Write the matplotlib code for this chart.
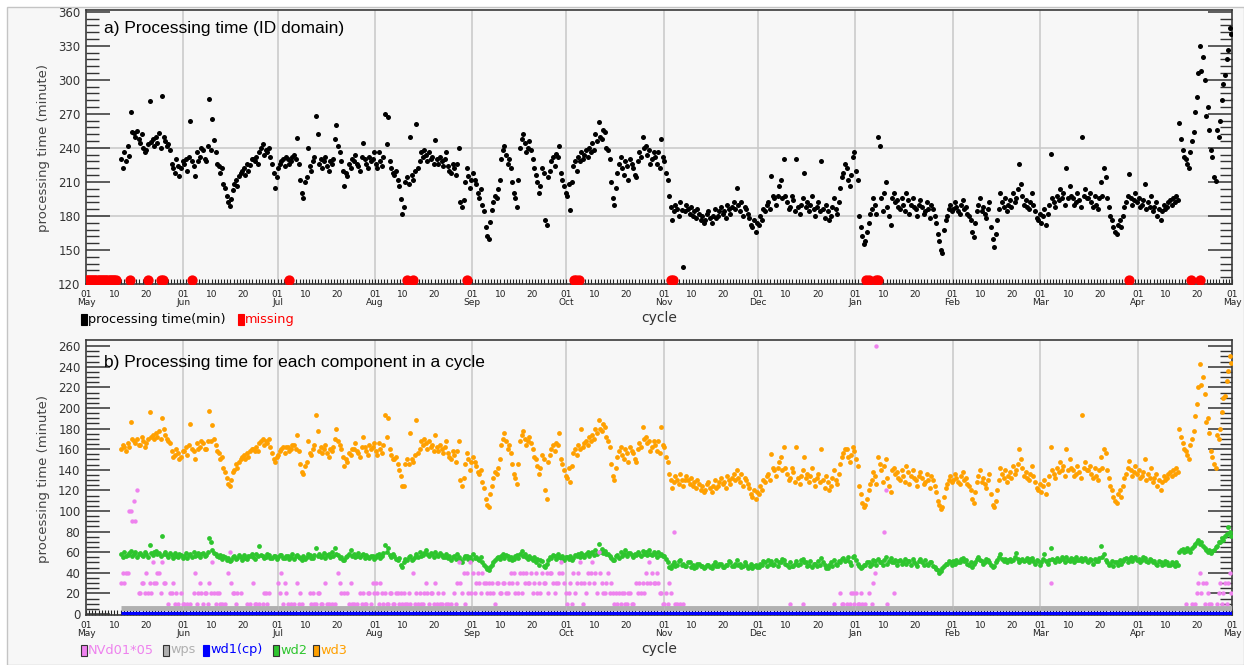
import numpy as np
import matplotlib
matplotlib.use("Agg")
import matplotlib.pyplot as plt
from matplotlib.patches import Rectangle

# ---- axis calendar (May .. next May, 365 days) ----
month_names = ["May", "Jun", "Jul", "Aug", "Sep", "Oct", "Nov", "Dec", "Jan", "Feb", "Mar", "Apr"]
month_days = [31, 30, 31, 31, 30, 31, 30, 31, 31, 28, 31, 30]
first_day = 11  # cycles start on 12 May

# ---- a) total processing time (min), two cycles per day, one list per month ----
total_time = [
    # May (12-31)
    [230, 222, 236, 228, 242, 233, 272, 254, 253, 250, 255, 248, 244, 252, 240, 236, 238, 243, 281, 245,
     248, 242, 250, 244, 253, 240, 286, 250, 246, 242, 243, 238, 226, 222, 218, 230, 224, 215, 222, 228],
    # Jun
    [226, 230, 220, 232, 264, 228, 224, 215, 236, 228, 232, 240, 238, 230, 228, 242, 283, 238, 265, 247,
     236, 226, 224, 218, 222, 208, 205, 198, 192, 189, 195, 203, 208, 212, 206, 215, 218, 220, 222, 216,
     226, 220, 225, 230, 230, 228, 232, 226, 236, 240, 243, 234, 238, 236, 240, 232, 226, 218, 205, 214],
    # Jul
    [222, 226, 228, 230, 224, 232, 230, 226, 228, 232, 234, 230, 249, 226, 212, 200, 196, 210, 214, 240,
     224, 220, 228, 232, 268, 252, 226, 230, 222, 228, 232, 224, 220, 228, 226, 230, 248, 260, 242, 236,
     228, 220, 206, 218, 215, 226, 222, 230, 228, 234, 226, 224, 220, 232, 244, 230, 226, 222, 232, 228,
     230, 236],
    # Aug
    [226, 222, 236, 228, 224, 232, 270, 243, 267, 228, 222, 218, 216, 220, 212, 206, 195, 182, 188, 210,
     214, 208, 250, 216, 212, 220, 261, 222, 228, 236, 232, 238, 234, 228, 236, 230, 232, 226, 247, 230,
     226, 232, 228, 224, 230, 236, 224, 220, 218, 226, 222, 216, 226, 240, 192, 188, 194, 210, 222, 215,
     205, 212],
    # Sep
    [218, 212, 208, 200, 196, 204, 190, 184, 170, 162, 160, 175, 185, 192, 198, 196, 204, 212, 230, 238,
     242, 234, 226, 230, 222, 210, 200, 196, 188, 212, 240, 248, 252, 244, 236, 240, 246, 238, 230, 222,
     216, 210, 200, 206, 222, 218, 176, 172, 214, 220, 228, 232, 224, 235, 232, 242, 218, 212, 206, 200],
    # Oct
    [198, 208, 185, 210, 224, 228, 220, 232, 228, 236, 230, 234, 238, 232, 240, 236, 244, 238, 252, 246,
     263, 250, 248, 256, 254, 240, 238, 230, 210, 196, 190, 205, 218, 226, 232, 222, 216, 228, 224, 212,
     230, 226, 222, 216, 214, 228, 236, 232, 250, 240, 242, 234, 238, 226, 230, 236, 232, 226, 236, 222,
     248, 232],
    # Nov
    [228, 218, 212, 198, 188, 176, 184, 190, 186, 180, 192, 185, 135, 184, 190, 186, 182, 188, 180, 184,
     178, 186, 182, 176, 180, 174, 176, 182, 184, 178, 174, 180, 186, 178, 180, 184, 188, 182, 184, 178,
     190, 186, 182, 188, 192, 186, 205, 190, 184, 192, 180, 188, 186, 182, 178, 172, 170, 176, 166, 174],
    # Dec
    [172, 180, 176, 186, 184, 190, 192, 186, 215, 198, 196, 190, 198, 206, 212, 196, 230, 198, 192, 186,
     188, 198, 194, 184, 230, 188, 182, 190, 196, 218, 188, 192, 184, 190, 198, 186, 180, 188, 192, 184,
     228, 186, 178, 190, 184, 176, 180, 188, 196, 186, 182, 192, 205, 214, 218, 226, 222, 212, 206, 216,
     232, 236],
    # Jan
    [220, 212, 180, 170, 162, 155, 158, 166, 174, 182, 186, 196, 190, 182, 250, 242, 196, 184, 200, 210,
     188, 180, 172, 196, 200, 192, 194, 188, 186, 196, 190, 184, 200, 194, 182, 190, 196, 188, 186, 180,
     190, 194, 188, 182, 184, 192, 186, 178, 190, 186, 180, 174, 164, 158, 150, 147, 168, 176, 180, 186,
     190, 184],
    # Feb
    [186, 192, 188, 184, 182, 190, 194, 186, 188, 182, 180, 176, 166, 161, 174, 184, 190, 196, 184, 188,
     182, 178, 186, 192, 170, 160, 153, 164, 176, 186, 200, 192, 188, 196, 184, 190, 194, 188, 200, 192,
     196, 204, 226, 208, 198, 190, 194, 188, 186, 192, 200, 190, 184, 178, 176, 182],
    # Mar
    [174, 180, 186, 172, 182, 190, 235, 196, 192, 188, 198, 194, 204, 196, 200, 190, 222, 196, 206, 198,
     196, 190, 192, 200, 194, 188, 250, 198, 204, 196, 196, 200, 192, 188, 198, 190, 186, 196, 210, 198,
     222, 214, 196, 188, 180, 176, 170, 166, 164, 172, 176, 170, 180, 188, 192, 198, 217, 196, 190, 194,
     200, 192],
    # Apr
    [196, 188, 190, 194, 208, 186, 192, 188, 198, 184, 188, 192, 180, 186, 176, 184, 190, 186, 188, 192,
     194, 190, 196, 192, 198, 194, 262, 248, 238, 232, 230, 226, 222, 236, 246, 254, 272, 285, 306, 330,
     308, 320, 300, 268, 276, 256, 238, 232, 214, 211, 256, 250, 264, 282, 296, 304, 318, 326, 346, 340],
]

# cycles with no result (day offset from 1 May)
missing_days = [0, 0.5, 1, 1.5, 2, 2.5, 3, 3.5, 4, 4.5, 5, 5.5, 6, 6.5, 7, 7.5, 8, 8.5, 9, 9.5,
                14, 19.9, 23.8, 24.5, 33.8, 64.5, 102.3, 104.3, 121.5, 155.3, 156.2, 157,
                186.2, 186.8, 248.5, 249.3, 251.6, 252.3, 332.2, 352, 354.8]

# ---- b) components ----
wd3_time = [
    [160, 164, 162, 158, 166, 162, 186, 170, 168, 166, 170, 164, 164, 172, 168, 162, 166, 170, 196, 172,
     174, 170, 176, 172, 178, 170, 190, 180, 174, 170, 168, 166, 158, 152, 154, 160, 156, 150, 152, 158],
    [158, 162, 154, 164, 184, 160, 158, 150, 166, 160, 162, 168, 166, 160, 160, 168, 197, 168, 183, 170,
     164, 158, 156, 150, 152, 142, 138, 132, 126, 124, 130, 138, 140, 146, 142, 148, 150, 152, 154, 150,
     156, 152, 158, 160, 160, 158, 162, 158, 166, 168, 170, 164, 168, 166, 170, 162, 156, 150, 148, 152],
    [154, 158, 160, 162, 156, 162, 162, 158, 160, 164, 164, 160, 174, 158, 146, 138, 136, 144, 148, 168,
     156, 154, 160, 164, 193, 178, 158, 162, 156, 160, 164, 156, 152, 160, 158, 162, 170, 180, 168, 164,
     160, 152, 144, 150, 148, 156, 154, 160, 160, 166, 158, 156, 152, 162, 172, 162, 158, 154, 164, 160,
     162, 166],
    [158, 154, 166, 160, 156, 164, 193, 172, 190, 160, 154, 150, 150, 152, 146, 140, 134, 124, 124, 146,
     150, 146, 176, 150, 148, 154, 188, 156, 160, 168, 164, 170, 166, 160, 168, 162, 164, 158, 174, 162,
     158, 164, 160, 156, 162, 168, 156, 152, 150, 158, 154, 148, 158, 168, 130, 124, 132, 146, 156, 150,
     140, 148],
    [152, 148, 144, 138, 136, 140, 128, 122, 112, 106, 104, 116, 124, 132, 138, 136, 142, 150, 164, 170,
     176, 168, 160, 164, 156, 146, 136, 132, 126, 146, 168, 174, 178, 170, 164, 168, 172, 166, 160, 152,
     150, 144, 136, 142, 154, 150, 120, 112, 148, 154, 160, 164, 158, 166, 164, 176, 150, 146, 140, 134],
    [132, 142, 128, 144, 156, 160, 154, 164, 160, 180, 162, 166, 168, 164, 172, 168, 174, 170, 180, 176,
     188, 180, 178, 184, 182, 172, 168, 162, 146, 134, 130, 142, 152, 158, 162, 154, 150, 160, 156, 148,
     162, 158, 156, 150, 148, 160, 166, 162, 182, 170, 172, 166, 168, 158, 162, 168, 164, 158, 168, 156,
     182, 164],
    [162, 152, 148, 136, 130, 122, 128, 134, 130, 126, 136, 130, 124, 130, 134, 130, 126, 132, 124, 128,
     122, 130, 126, 120, 124, 118, 120, 126, 128, 122, 118, 124, 130, 122, 124, 128, 132, 126, 128, 122,
     134, 130, 126, 132, 136, 130, 140, 132, 128, 136, 124, 132, 130, 126, 122, 116, 114, 120, 112, 118],
    [116, 124, 120, 130, 128, 134, 136, 130, 155, 142, 140, 134, 142, 148, 152, 140, 162, 142, 136, 130,
     132, 142, 138, 128, 162, 132, 126, 134, 140, 152, 132, 136, 128, 134, 142, 130, 124, 132, 136, 128,
     160, 130, 122, 134, 128, 120, 124, 132, 140, 130, 126, 136, 146, 152, 156, 160, 160, 152, 148, 154,
     162, 158],
    [150, 144, 124, 116, 108, 104, 106, 112, 120, 126, 130, 138, 134, 126, 152, 146, 140, 128, 144, 150,
     132, 124, 118, 140, 142, 136, 138, 132, 130, 140, 134, 128, 144, 138, 126, 134, 140, 132, 130, 124,
     134, 138, 132, 126, 128, 136, 130, 122, 134, 130, 124, 118, 110, 106, 102, 104, 114, 122, 126, 130,
     134, 128],
    [130, 136, 132, 128, 126, 134, 138, 130, 132, 126, 124, 120, 112, 108, 118, 128, 134, 140, 128, 132,
     126, 122, 130, 136, 116, 106, 104, 110, 120, 130, 142, 136, 132, 140, 128, 134, 138, 132, 144, 136,
     140, 146, 160, 150, 142, 134, 138, 132, 130, 136, 144, 134, 128, 122, 120, 126],
    [118, 124, 130, 116, 126, 134, 162, 140, 136, 132, 142, 138, 148, 140, 144, 134, 160, 140, 150, 142,
     140, 134, 136, 144, 138, 132, 193, 142, 148, 140, 140, 144, 136, 132, 142, 134, 130, 140, 152, 142,
     160, 156, 140, 132, 124, 120, 114, 110, 108, 116, 120, 114, 124, 132, 136, 142, 149, 140, 134, 138,
     144, 136],
    [140, 132, 134, 138, 150, 130, 136, 132, 142, 128, 132, 136, 124, 130, 120, 128, 134, 130, 132, 136,
     138, 134, 140, 136, 142, 138, 180, 172, 166, 160, 158, 154, 150, 164, 170, 178, 192, 204, 220, 243,
     222, 230, 214, 186, 190, 176, 158, 152, 146, 142, 174, 170, 180, 196, 210, 212, 226, 236, 250, 244],
]

wd2_time = [
    [58, 55, 60, 56, 57, 59, 61, 56, 58, 60, 55, 58, 59, 57, 56, 60, 58, 55, 67, 59,
     57, 60, 61, 58, 59, 56, 76, 58, 60, 57, 55, 59, 57, 54, 59, 56, 55, 58, 57, 54],
    [56, 59, 54, 57, 58, 55, 60, 56, 57, 59, 55, 58, 59, 56, 57, 60, 74, 70, 62, 59,
     58, 56, 55, 57, 53, 56, 55, 52, 54, 51, 52, 55, 56, 53, 54, 57, 55, 52, 57, 54,
     53, 56, 56, 58, 55, 53, 58, 56, 66, 57, 56, 54, 55, 58, 57, 54, 54, 56, 56, 53],
    [55, 57, 57, 54, 54, 56, 56, 53, 55, 58, 53, 56, 57, 55, 54, 52, 56, 53, 55, 58,
     57, 54, 54, 57, 64, 56, 58, 55, 56, 59, 54, 57, 58, 55, 60, 56, 64, 58, 57, 54,
     55, 52, 52, 55, 56, 58, 62, 56, 58, 55, 56, 59, 55, 57, 58, 54, 57, 55, 54, 56, 56, 53],
    [55, 57, 58, 54, 56, 59, 67, 60, 64, 57, 55, 58, 56, 53, 52, 54, 48, 46, 50, 53,
     52, 55, 56, 52, 53, 55, 58, 55, 60, 56, 57, 59, 62, 58, 56, 59, 58, 55, 60, 57,
     56, 59, 57, 55, 55, 58, 54, 56, 52, 55, 56, 53, 58, 55, 52, 50, 54, 56, 56, 53, 55, 52],
    [58, 54, 55, 53, 52, 55, 50, 48, 46, 44, 43, 46, 48, 50, 52, 54, 55, 53, 56, 58,
     54, 57, 56, 53, 55, 52, 53, 56, 57, 54, 58, 61, 56, 58, 55, 53, 56, 54, 52, 55,
     50, 53, 48, 52, 51, 47, 46, 49, 52, 55, 54, 57, 56, 53, 58, 55, 54, 56, 52, 55],
    [55, 53, 56, 52, 54, 57, 56, 58, 55, 59, 57, 55, 58, 60, 56, 59, 60, 57, 62, 58,
     68, 60, 63, 59, 61, 58, 58, 56, 54, 52, 52, 56, 57, 54, 60, 56, 58, 62, 56, 59,
     59, 57, 55, 58, 57, 60, 58, 56, 61, 58, 60, 57, 62, 58, 57, 60, 58, 55, 60, 57, 58, 56],
    [56, 53, 50, 46, 45, 48, 50, 47, 48, 51, 52, 48, 49, 47, 47, 50, 50, 46, 48, 45,
     46, 49, 49, 47, 47, 45, 46, 48, 48, 46, 45, 48, 50, 47, 47, 49, 49, 46, 46, 48,
     48, 51, 50, 47, 47, 49, 52, 48, 49, 46, 47, 50, 48, 45, 46, 49, 45, 47, 48, 46],
    [46, 49, 48, 51, 50, 47, 52, 49, 51, 48, 49, 52, 47, 50, 50, 53, 52, 49, 48, 46,
     50, 47, 47, 49, 51, 48, 49, 52, 53, 50, 50, 47, 48, 51, 46, 49, 49, 47, 51, 48,
     54, 50, 48, 45, 45, 48, 50, 47, 52, 49, 48, 51, 50, 53, 54, 51, 52, 55, 50, 48, 55, 56],
    [52, 49, 47, 45, 46, 48, 48, 50, 50, 47, 49, 52, 51, 48, 53, 50, 50, 48, 52, 55,
     49, 51, 54, 50, 50, 52, 48, 51, 52, 49, 50, 53, 49, 51, 51, 48, 53, 50, 49, 47,
     51, 53, 50, 48, 52, 49, 48, 50, 50, 47, 46, 44, 43, 40, 42, 45, 47, 49, 49, 51, 50, 48],
    [51, 49, 52, 50, 50, 53, 54, 51, 52, 49, 48, 50, 46, 49, 50, 53, 55, 52, 51, 49,
     50, 53, 52, 50, 48, 46, 47, 50, 52, 55, 58, 53, 51, 53, 50, 52, 53, 51, 52, 55,
     59, 53, 50, 52, 53, 51, 52, 54, 50, 53, 54, 51, 49, 52, 51, 48],
    [50, 53, 58, 51, 49, 52, 64, 53, 52, 50, 54, 51, 52, 55, 53, 50, 55, 52, 51, 54,
     53, 50, 55, 52, 52, 54, 51, 53, 54, 51, 50, 53, 52, 49, 53, 51, 51, 54, 66, 55,
     58, 52, 50, 48, 49, 51, 47, 50, 50, 48, 52, 49, 51, 53, 54, 50, 53, 55, 51, 54, 55, 52],
    [53, 50, 52, 55, 54, 51, 50, 53, 52, 50, 51, 49, 48, 51, 50, 48, 49, 51, 50, 48,
     48, 50, 49, 47, 50, 48, 60, 62, 63, 60, 61, 64, 62, 60, 64, 66, 68, 70, 72, 68,
     70, 66, 64, 62, 60, 62, 59, 61, 62, 65, 66, 70, 70, 74, 72, 76, 78, 84, 80, 76],
]

# NVd01*05 (0 = no value in that cycle)
nvd_time = [
    [30, 40, 30, 40, 40, 100, 100, 90, 110, 90, 120, 20, 20, 30, 30, 20, 40, 20, 30, 20,
     50, 30, 30, 40, 40, 20, 50, 30, 30, 0, 10, 20, 20, 30, 10, 20, 10, 0, 20, 10],
    [10, 0, 10, 0, 10, 0, 20, 40, 10, 20, 30, 20, 10, 20, 20, 10, 30, 20, 50, 20,
     10, 20, 20, 10, 10, 0, 10, 0, 40, 60, 30, 20, 20, 10, 20, 0, 20, 0, 0, 0,
     10, 0, 10, 0, 30, 10, 10, 0, 10, 0, 10, 20, 20, 10, 20, 0, 0, 0, 0, 0],
    [30, 20, 40, 10, 30, 20, 10, 0, 10, 0, 10, 0, 30, 10, 20, 10, 0, 0, 0, 0,
     20, 10, 20, 10, 10, 20, 20, 10, 10, 0, 30, 10, 10, 0, 10, 0, 10, 0, 40, 30,
     20, 0, 20, 0, 20, 10, 30, 10, 10, 0, 10, 0, 20, 10, 20, 10, 10, 20, 20, 10, 30, 20],
    [30, 20, 10, 30, 20, 10, 20, 10, 10, 20, 20, 10, 10, 20, 20, 10, 20, 10, 20, 10,
     10, 20, 10, 0, 40, 10, 20, 10, 20, 10, 10, 20, 30, 20, 10, 20, 20, 10, 30, 10,
     20, 10, 10, 20, 0, 10, 10, 0, 10, 0, 20, 10, 30, 50, 30, 20, 40, 10, 40, 20, 50, 20],
    [40, 20, 30, 40, 30, 20, 40, 30, 30, 20, 30, 20, 30, 20, 10, 30, 30, 20, 20, 30,
     30, 20, 20, 30, 40, 30, 40, 20, 30, 20, 40, 20, 40, 30, 40, 30, 30, 40, 20, 30,
     40, 20, 30, 20, 40, 30, 30, 40, 20, 40, 40, 30, 20, 30, 30, 40, 50, 40, 30, 20],
    [10, 20, 30, 10, 40, 20, 30, 40, 50, 30, 10, 30, 20, 40, 30, 40, 50, 30, 40, 20,
     60, 40, 30, 20, 20, 30, 40, 20, 30, 20, 10, 20, 10, 20, 10, 20, 20, 10, 10, 20,
     20, 10, 10, 0, 30, 20, 30, 20, 30, 20, 40, 30, 50, 30, 40, 30, 30, 40, 30, 20, 20, 10],
    [10, 20, 10, 30, 20, 0, 80, 10, 10, 0, 10, 0, 10, 0, 0, 0, 0, 0, 0, 0,
     0, 0, 0, 0, 0, 0, 0, 0, 0, 0, 0, 0, 0, 0, 0, 0, 0, 0, 0, 0,
     0, 0, 0, 0, 0, 0, 0, 0, 0, 0, 0, 0, 0, 0, 0, 0, 0, 0, 0, 0],
    [0, 0, 0, 0, 0, 0, 0, 0, 0, 0, 0, 0, 0, 0, 0, 0, 0, 0, 0, 0,
     10, 0, 0, 0, 0, 0, 0, 0, 10, 0, 0, 0, 0, 0, 0, 0, 0, 0, 0, 0,
     0, 0, 0, 0, 0, 0, 0, 0, 10, 0, 0, 0, 20, 10, 10, 0, 10, 0, 10, 20, 20, 10],
    [20, 10, 10, 20, 10, 0, 10, 0, 20, 0, 10, 30, 40, 260, 0, 0, 0, 0, 80, 120,
     10, 0, 0, 0, 20, 0, 0, 0, 0, 0, 0, 0, 0, 0, 0, 0, 0, 0, 0, 0,
     0, 0, 0, 0, 0, 0, 0, 0, 0, 0, 0, 0, 0, 0, 0, 0, 0, 0, 0, 0, 0, 0],
    [],
    [0, 0, 0, 0, 0, 0, 30, 0, 0, 0, 0, 0, 0, 0, 0, 0, 0, 0, 0, 0,
     0, 0, 0, 0, 0, 0, 0, 0, 0, 0, 0, 0, 0, 0, 0, 0, 0, 0, 0, 0,
     0, 0, 0, 0, 0, 0, 0, 0, 0, 0, 0, 0, 0, 0, 0, 0, 0, 0, 0, 0, 0, 0],
    [0, 0, 0, 0, 0, 0, 0, 0, 0, 0, 0, 0, 0, 0, 0, 0, 0, 0, 0, 0,
     0, 0, 0, 0, 0, 0, 0, 0, 0, 0, 10, 0, 0, 0, 10, 0, 10, 20, 30, 40,
     20, 30, 10, 30, 20, 10, 10, 0, 0, 0, 10, 20, 30, 10, 20, 30, 10, 30, 40, 20],
]

# wps and wd1(cp): flat, a few minutes each month
wps_month = [5.5, 5.5, 5.5, 5.5, 5.5, 5.5, 5.5, 5.5, 5.5, 5.5, 5.5, 5.5]
wd1_month = [0.6, 0.6, 0.6, 0.6, 0.6, 0.6, 0.6, 0.6, 0.6, 0.6, 0.6, 0.6]

month_start = np.concatenate([[0], np.cumsum(month_days)])


def cycle_xy(chunks):
    xs, ys = [], []
    for m, vals in enumerate(chunks):
        if len(vals) == 0:
            continue
        a = max(month_start[m], first_day)
        b = month_start[m + 1]
        n = len(vals)
        xs.append(a + (np.arange(n) + 0.5) * (b - a) / n)
        ys.append(np.asarray(vals, float))
    return np.concatenate(xs), np.concatenate(ys)


W, H = 1244, 665
fig = plt.figure(figsize=(W / 100, H / 100), dpi=100)
fig.patch.set_facecolor("white")
fig.add_artist(Rectangle((7 / W, 0), 1 - 7 / W, 1 - 7 / H, transform=fig.transFigure,
                         facecolor="#f7f7f7", edgecolor="#c4c4c4", lw=1, zorder=-10))

bg = "#f7f7f7"
ax1 = fig.add_axes([86 / W, 1 - 284 / H, 1146 / W, 274 / H], facecolor=bg)
ax2 = fig.add_axes([86 / W, 1 - 615 / H, 1146 / W, 275 / H], facecolor=bg)

ticks, labels = [], []
for m, name in enumerate(month_names):
    s = month_start[m]
    ticks += [s, s + 9, s + 19]
    labels += ["01\n" + name, "10", "20"]
ticks.append(365)
labels.append("01\nMay")


def setup(ax, ymin, ymax, major, minor):
    ax.set_xlim(0, 365)
    ax.set_ylim(ymin, ymax)
    ax.set_xticks(ticks)
    ax.set_xticklabels(labels, fontsize=6.5, linespacing=0.95)
    ax.set_xticks(np.arange(0, 366), minor=True)
    ax.tick_params(axis="x", which="both", direction="in", length=3.5, width=0.8,
                   top=False, pad=4, colors="#222222")
    ax.set_yticks(major)
    ax.set_yticks(minor, minor=True)
    ax.tick_params(axis="y", which="major", direction="in", length=17, width=1.1,
                   left=True, right=True, labelsize=8.5, colors="#333333", pad=4)
    ax.tick_params(axis="y", which="minor", direction="in", length=9, width=1.0,
                   left=True, right=True, colors="#333333")
    for sp in ax.spines.values():
        sp.set_color("#3a3a3a")
        sp.set_linewidth(1.2)
    for s in month_start[1:-1]:
        ax.axvline(s, color="#c8c8c8", lw=1.1, zorder=0)


# ---- panel a ----
setup(ax1, 120, 361.5, np.arange(120, 361, 30), np.arange(120, 361, 6))
for yv in (180, 240):
    ax1.axhline(yv, color="#c8c8c8", lw=1.1, zorder=0)
xa, ya = cycle_xy(total_time)
ax1.scatter(xa, ya, s=13, color="black", linewidths=0, zorder=3)
ax1.scatter(missing_days, np.full(len(missing_days), 123.5), s=55, color="#ff0000",
            linewidths=0, zorder=4, clip_on=True)
ax1.text(0.0157, 0.934, "a) Processing time (ID domain)", transform=ax1.transAxes,
         fontsize=12.5, family="Liberation Sans", va="center", ha="left", color="black")

# ---- panel b ----
setup(ax2, -1, 266, np.arange(0, 261, 20), np.arange(0, 261, 5))
x3, y3 = cycle_xy(wd3_time)
x2, y2 = cycle_xy(wd2_time)
xn, yn = cycle_xy(nvd_time)
ax2.scatter(x3, y3, s=12, color="#ffa000", linewidths=0, zorder=3)
ax2.scatter(x2, y2, s=12, color="#2ec52e", linewidths=0, zorder=3)
keep = yn > 0
ax2.scatter(xn[keep], yn[keep], s=10, color="#ee82ee", linewidths=0, zorder=4)
band_start = np.maximum(month_start[:-1], first_day)
ax2.hlines(wps_month, band_start, month_start[1:], color="#b0b0b0", lw=3.5, zorder=5)
ax2.hlines(wd1_month, band_start, month_start[1:], color="#0000ff", lw=2.4, zorder=6)
ax2.text(0.0157, 0.92, "b) Processing time for each component in a cycle", transform=ax2.transAxes,
         fontsize=12.5, family="Liberation Sans", va="center", ha="left", color="black")

# ---- labels ----
for yc in (148, 479):
    fig.text(44 / W, 1 - yc / H, "processing time (minute)", rotation=90, ha="center",
             va="center", fontsize=9.5, color="#444444")
for yc in (318, 649):
    fig.text(659 / W, 1 - yc / H, "cycle", ha="center", va="center", fontsize=10, color="#333333")


def legend_item(x, y, text, color, edge):
    fig.add_artist(Rectangle(((x) / W, 1 - (y + 5.5) / H), 6 / W, 11 / H, transform=fig.transFigure,
                             facecolor=color, edgecolor=edge, lw=0.8))
    fig.text((x + 7) / W, 1 - y / H, text, ha="left", va="center", fontsize=9.3, color=color)


legend_item(81, 319, "processing time(min)", "black", "black")
legend_item(238, 319, "missing", "#ff0000", "#ff0000")
legend_item(81, 650, "NVd01*05", "#ee82ee", "#333333")
legend_item(163, 650, "wps", "#b0b0b0", "#333333")
legend_item(203, 650, "wd1(cp)", "#0000ff", "#0000ff")
legend_item(273, 650, "wd2", "#2ec52e", "#333333")
legend_item(313, 650, "wd3", "#ffa000", "#333333")

fig.savefig("out.png", dpi=100, facecolor=fig.get_facecolor())
